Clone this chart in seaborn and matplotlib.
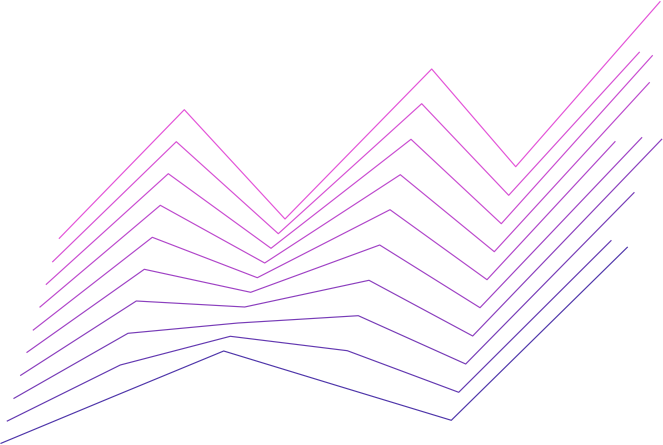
import matplotlib
matplotlib.use('Agg')
import matplotlib.pyplot as plt
import matplotlib.colors as mcolors
import seaborn as sns
import pandas as pd
import numpy as np

# series names, top to bottom
series = ['s1', 's2', 's3', 's4', 's5', 's6', 's7', 's8', 's9', 's10']

# x positions of the six points of each series
x_vals = [
    [59.3, 184.3, 285.0, 431.7, 515.7, 660.0],
    [52.7, 176.3, 278.3, 421.7, 508.7, 639.3],
    [46.3, 168.3, 271.0, 411.0, 501.3, 652.3],
    [40.0, 160.3, 264.7, 400.3, 494.3, 649.3],
    [33.3, 152.3, 257.3, 390.0, 487.0, 615.0],
    [27.0, 144.3, 250.7, 379.7, 480.0, 641.7],
    [20.7, 136.3, 244.7, 369.0, 472.7, 661.7],
    [14.0, 128.0, 238.0, 358.3, 465.7, 634.0],
    [7.3, 120.3, 230.3, 347.3, 458.7, 611.0],
    [1.0, 112.3, 223.7, 336.7, 451.3, 627.3],
]

# y values (measured downward from the top)
y_vals = [
    [238.3, 109.7, 219.0, 69.0, 166.7, 1.7],
    [261.7, 141.7, 233.7, 103.7, 195.3, 52.3],
    [284.3, 173.7, 248.3, 139.3, 223.7, 55.7],
    [307.0, 205.3, 263.0, 174.7, 251.7, 82.7],
    [330.0, 237.3, 277.7, 209.7, 279.7, 141.7],
    [352.3, 269.3, 292.3, 245.0, 307.7, 137.7],
    [375.3, 301.0, 307.0, 280.3, 336.0, 139.3],
    [398.3, 333.3, 323.0, 315.7, 364.0, 192.7],
    [421.0, 365.0, 336.3, 350.7, 392.3, 240.7],
    [443.3, 397.0, 351.0, 385.5, 420.3, 247.3],
]

rows = []
for name, xs, ys in zip(series, x_vals, y_vals):
    for i, (xv, yv) in enumerate(zip(xs, ys)):
        rows.append({'series': name, 'order': i, 'x': xv, 'y': yv})
df = pd.DataFrame(rows)

# magenta -> indigo gradient
cmap = mcolors.LinearSegmentedColormap.from_list('grad', ['#e453d8', '#a944c8', '#4f36aa'])
palette = [cmap(t) for t in np.linspace(0, 1, len(series))]

fig = plt.figure(figsize=(6.63, 4.45), dpi=100)
ax = fig.add_axes([0, 0, 1, 1])
sns.lineplot(data=df, x='x', y='y', hue='series', hue_order=series, palette=palette,
             sort=False, estimator=None, units='series', linewidth=0.85, legend=False, ax=ax)
for line in ax.lines:
    line.set_clip_on(False)

ax.set_xlim(0, 663)
ax.set_ylim(445, 0)
ax.axis('off')

fig.savefig('out.png', dpi=100)
